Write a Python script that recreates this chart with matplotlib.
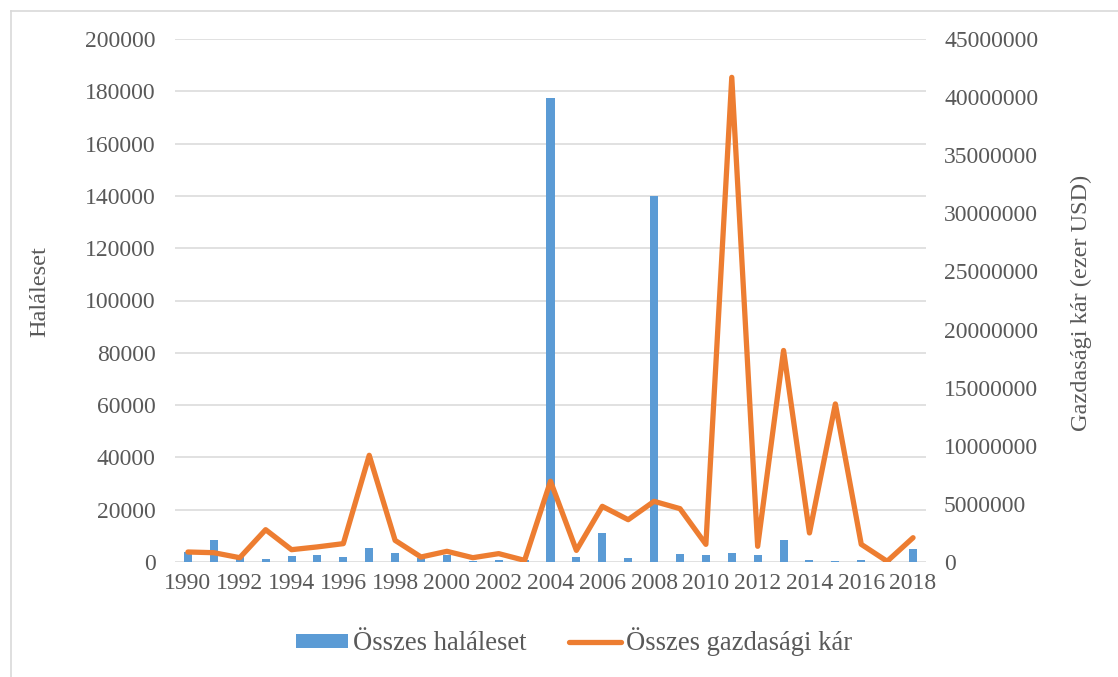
import matplotlib
matplotlib.use("Agg")
import matplotlib.pyplot as plt
from matplotlib.lines import Line2D
import numpy as np

years = list(range(1990, 2019))
deaths = [3700, 8300, 2600, 1000, 2400, 2550, 1900, 5300, 3400, 1500,
          2500, 500, 900, 700, 177600, 1800, 11200, 1650, 139800, 3050,
          2800, 3550, 2550, 8400, 650, 400, 600, 300, 5100]
damage = [860000, 800000, 370000, 2780000, 1060000, 1300000, 1580000, 9180000,
          1860000, 430000, 920000, 370000, 720000, 140000, 6950000, 1000000,
          4790000, 3640000, 5220000, 4590000, 1520000, 41700000, 1350000,
          18200000, 2500000, 13600000, 1520000, 60000, 2090000]
left_ticks = list(range(0, 200001, 20000))
right_ticks = list(range(0, 45000001, 5000000))

BLUE = "#5B9BD5"
ORANGE = "#ED7D31"
GRID = "#D9D9D9"
TEXT = "#595959"
FONT = "Liberation Serif"
FS = 17

W, H = 1118, 677
fig = plt.figure(figsize=(W / 100, H / 100), dpi=100)
fig.subplots_adjust(left=175 / W, right=926 / W, top=1 - 39 / H, bottom=1 - 562 / H)
ax = fig.add_subplot(111)

x = np.arange(len(years))
ax.bar(x, deaths, width=0.31, color=BLUE, zorder=2, label="Összes haláleset")
ax.set_xlim(-0.5, len(years) - 0.5)
ax.set_ylim(0, 200000)
ax.set_yticks(left_ticks)
ax.set_yticklabels([str(v) for v in left_ticks])
ax.set_xticks(x[::2])
ax.set_xticklabels([str(y) for y in years[::2]])
ax.grid(axis="y", color=GRID, linewidth=1.1, zorder=0)
ax.set_axisbelow(True)
for s in ax.spines.values():
    s.set_visible(False)
ax.tick_params(axis="both", length=0, labelsize=FS, labelcolor=TEXT)
ax.tick_params(axis="y", pad=14)
ax.tick_params(axis="x", pad=8)
for lab in ax.get_xticklabels() + ax.get_yticklabels():
    lab.set_fontfamily(FONT)
ax.set_ylabel("Haláleset", fontsize=17.5, color=TEXT, fontfamily=FONT)
ax.yaxis.set_label_coords(-0.166, 0.518)

ax2 = ax.twinx()
ax2.plot(x, damage, color=ORANGE, linewidth=3.8, solid_joinstyle="round",
         solid_capstyle="round", zorder=3, label="Összes gazdasági kár")
ax2.set_ylim(0, 45000000)
ax2.set_yticks(right_ticks)
ax2.set_yticklabels([str(v) for v in right_ticks])
for s in ax2.spines.values():
    s.set_visible(False)
ax2.tick_params(axis="y", length=0, labelsize=FS, labelcolor=TEXT, pad=13)
for lab in ax2.get_yticklabels():
    lab.set_fontfamily(FONT)
ax2.set_ylabel("Gazdasági kár (ezer USD)", fontsize=17.5, color=TEXT,
               fontfamily=FONT, rotation=90)
ax2.yaxis.set_label_coords(1.193, 0.495)

handles = [ax.patches[0], ax2.lines[0]]
labels = ["Összes haláleset", "Összes gazdasági kár"]
fig.legend(handles, labels, loc="center", bbox_to_anchor=(574 / W, 1 - 642 / H),
           ncol=2, frameon=False, prop={"family": FONT, "size": 19.2},
           labelcolor=TEXT, handlelength=1.95, handletextpad=0.18, columnspacing=1.6,
           handleheight=0.45, borderpad=0.2)

# thin chart-area frame
fig.add_artist(Line2D([10.5 / W, 10.5 / W], [0, 1 - 10.5 / H], transform=fig.transFigure,
                      color=GRID, linewidth=1.2))
fig.add_artist(Line2D([10.5 / W, 1], [1 - 10.5 / H, 1 - 10.5 / H], transform=fig.transFigure,
                      color=GRID, linewidth=1.2))

fig.savefig("out.png", dpi=100)
